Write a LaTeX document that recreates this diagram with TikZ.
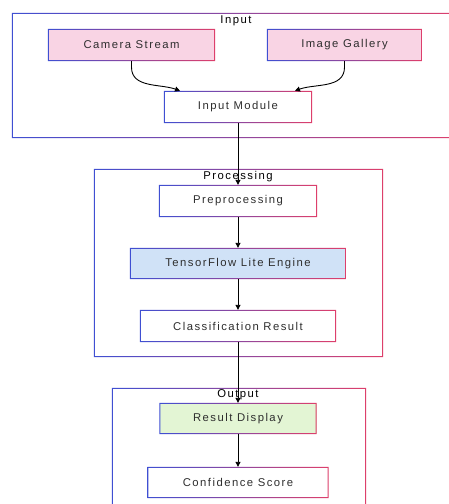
\documentclass[tikz,border=0pt]{standalone}
\usepackage{fontspec}
\setmainfont{Liberation Sans}[LetterSpace=13]
\usepackage{xcolor}
\usepackage{tikz}
\usetikzlibrary{arrows.meta,calc}

\definecolor{frameblue}{HTML}{3F4FD2}
\definecolor{framepink}{HTML}{DE3F6B}
\definecolor{srcpink}{HTML}{F9D4E4}
\definecolor{engblue}{HTML}{D0E2F7}
\definecolor{outgreen}{HTML}{E3F5D4}
\definecolor{txtgray}{HTML}{2E2E2E}

% gradient border round a named node
\newcommand\gframe[2][1pt]{%
  \shade[even odd rule,left color=frameblue,right color=framepink]
    (#2.south west) rectangle (#2.north east)
    ([shift={(#1,#1)}]#2.south west) rectangle ([shift={(-#1,-#1)}]#2.north east);}

\tikzset{
  box/.style={rectangle,inner sep=0pt,minimum height=32pt,
    font=\fontsize{11.3}{13}\selectfont,text=txtgray},
  cluster/.style={rectangle,inner sep=0pt},
  title/.style={inner sep=0pt,font=\fontsize{11.3}{13}\selectfont,text=black},
  flow/.style={line width=0.9pt,-{Triangle[length=5pt,width=5pt]}}
}

\begin{document}
\begin{tikzpicture}[x=1pt,y=-1pt]
\useasboundingbox (0,0) rectangle (449,504);

% clusters
\node[cluster,minimum width=450pt,minimum height=125pt] at (237,75.5) (incl) {};
\node[cluster,minimum width=289pt,minimum height=188pt] at (238.5,263) (proccl) {};
\node[cluster,minimum width=254pt,minimum height=132pt] at (239,454) (outcl) {};
\gframe{incl}
\gframe{proccl}
\gframe{outcl}
\node[title] at (236,20.5) (intitle) {Input};
\node[title] at (238,176.5) (proctitle) {Processing};
\node[title] at (238,394.5) (outtitle) {Output};

% input
\node[box,fill=srcpink,minimum width=167pt] at (131.5,45) (camera) {Camera Stream};
\node[box,fill=srcpink,minimum width=155pt] at (344.5,45) (gallery) {Image Gallery};
\node[box,fill=white,minimum width=148pt] at (238,107) (inmod) {Input Module};

% processing
\node[box,fill=white,minimum width=158pt] at (238,201) (prep) {Preprocessing};
\node[box,fill=engblue,minimum width=216pt,minimum height=31pt] at (238,263.5) (tflite) {TensorFlow Lite Engine};
\node[box,fill=white,minimum width=196pt] at (238,326) (classres) {Classification Result};

% output
\node[box,fill=outgreen,minimum width=157pt,minimum height=31pt] at (238,418.5) (display) {Result Display};
\node[box,fill=white,minimum width=181pt,minimum height=31pt] at (238,482.5) (confidence) {Confidence Score};

\foreach \n in {camera,gallery,inmod,prep,tflite,classres,display,confidence}
  \gframe{\n};

\draw[flow] (camera.south) -- ++(0,6) to[out=-90,in=160] ([xshift=-58pt]inmod.north);
\draw[flow] (gallery.south) -- ++(0,6) to[out=-90,in=20] ([xshift=57pt]inmod.north);
\draw[flow] (inmod) -- (prep);
\draw[flow] (prep) -- (tflite);
\draw[flow] (tflite) -- (classres);
\draw[flow] (classres) -- (display);
\draw[flow] (display) -- (confidence);
\end{tikzpicture}
\end{document}
